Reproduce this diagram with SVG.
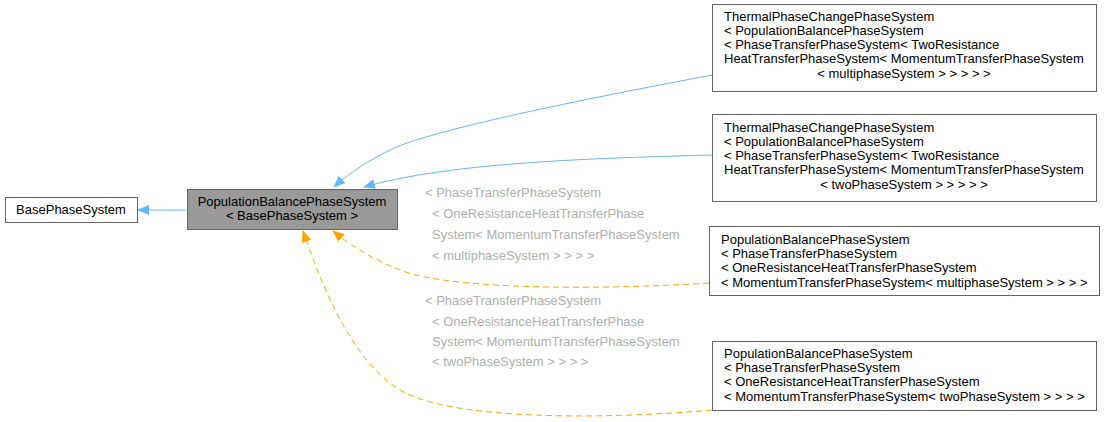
<svg xmlns="http://www.w3.org/2000/svg" width="1104" height="422" viewBox="0 0 1104 422">
<style>
text{font-family:"Liberation Sans",Arial,sans-serif;font-size:13px;fill:#000}
.n{fill:#fff;stroke:#666;stroke-width:1}
.lbl{fill:#b0b0b0}
.b{fill:none;stroke:#63b8ff;stroke-width:1}
.o{fill:none;stroke:#ffa500;stroke-width:1;stroke-dasharray:6,4}
</style>
<defs>
<marker id="ab" markerWidth="12" markerHeight="10" refX="11" refY="5" orient="auto" markerUnits="userSpaceOnUse"><path d="M0,0 L12,5 L0,10z" fill="#63b8ff"/></marker>
<marker id="ao" markerWidth="12" markerHeight="10" refX="11" refY="5" orient="auto" markerUnits="userSpaceOnUse"><path d="M0,0 L12,5 L0,10z" fill="#ffa500"/></marker>
</defs>
<rect width="1104" height="422" fill="#fff"/>
<g id="edges">
<path class="b" d="M186,210 L138,210" marker-end="url(#ab)"/>
<path class="b" d="M712,75 C580,100 430,130 390,150 C370,160 350,172 334,187" marker-end="url(#ab)"/>
<path class="b" d="M712,155 C600,158 450,162 364,187" marker-end="url(#ab)"/>
<path class="o" d="M709,283 C600,290 450,290 400,270 C370,258 350,245 333,231" marker-end="url(#ao)"/>
<path class="o" d="M712,410 C600,420 450,420 400,390 C350,360 320,280 303,231" marker-end="url(#ao)"/>
<g class="lbl">
<text x="425" y="197" class="lbl">&lt; PhaseTransferPhaseSystem</text>
<text x="432" y="218" class="lbl">&lt; OneResistanceHeatTransferPhase</text>
<text x="432" y="239" class="lbl">System&lt; MomentumTransferPhaseSystem</text>
<text x="432" y="260" class="lbl">&lt; multiphaseSystem &gt; &gt; &gt; &gt;</text>
<text x="425" y="305" class="lbl">&lt; PhaseTransferPhaseSystem</text>
<text x="432" y="326" class="lbl">&lt; OneResistanceHeatTransferPhase</text>
<text x="432" y="346" class="lbl">System&lt; MomentumTransferPhaseSystem</text>
<text x="432" y="366" class="lbl">&lt; twoPhaseSystem &gt; &gt; &gt; &gt;</text>
</g>
</g>
<g id="base"><rect class="n" x="5.5" y="197.5" width="132" height="25"/><text x="71" y="214" text-anchor="middle">BasePhaseSystem</text></g>
<g id="pbps"><rect x="187.5" y="189.5" width="210" height="40" fill="#999" stroke="#666"/><text x="292" y="206" text-anchor="middle">PopulationBalancePhaseSystem</text><text x="292" y="220" text-anchor="middle">&lt; BasePhaseSystem &gt;</text></g>
<g id="n1"><rect class="n" x="712.5" y="4.5" width="384" height="87"/>
<text x="724" y="21">ThermalPhaseChangePhaseSystem</text><text x="724" y="35">&lt; PopulationBalancePhaseSystem</text><text x="724" y="49">&lt; PhaseTransferPhaseSystem&lt; TwoResistance</text><text x="724" y="63">HeatTransferPhaseSystem&lt; MomentumTransferPhaseSystem</text><text x="904" y="78" text-anchor="middle">&lt; multiphaseSystem &gt; &gt; &gt; &gt; &gt;</text></g>
<g id="n2"><rect class="n" x="712.5" y="114.5" width="384" height="87"/>
<text x="724" y="132">ThermalPhaseChangePhaseSystem</text><text x="724" y="146">&lt; PopulationBalancePhaseSystem</text><text x="724" y="160">&lt; PhaseTransferPhaseSystem&lt; TwoResistance</text><text x="724" y="174">HeatTransferPhaseSystem&lt; MomentumTransferPhaseSystem</text><text x="904" y="189" text-anchor="middle">&lt; twoPhaseSystem &gt; &gt; &gt; &gt; &gt;</text></g>
<g id="n3"><rect class="n" x="709.5" y="226.5" width="390" height="69"/>
<text x="721" y="244">PopulationBalancePhaseSystem</text><text x="721" y="258">&lt; PhaseTransferPhaseSystem</text><text x="721" y="272">&lt; OneResistanceHeatTransferPhaseSystem</text><text x="721" y="287">&lt; MomentumTransferPhaseSystem&lt; multiphaseSystem &gt; &gt; &gt; &gt;</text></g>
<g id="n4"><rect class="n" x="712.5" y="341.5" width="384" height="69"/>
<text x="724" y="358">PopulationBalancePhaseSystem</text><text x="724" y="372">&lt; PhaseTransferPhaseSystem</text><text x="724" y="386">&lt; OneResistanceHeatTransferPhaseSystem</text><text x="724" y="401">&lt; MomentumTransferPhaseSystem&lt; twoPhaseSystem &gt; &gt; &gt; &gt;</text></g>
</svg>
